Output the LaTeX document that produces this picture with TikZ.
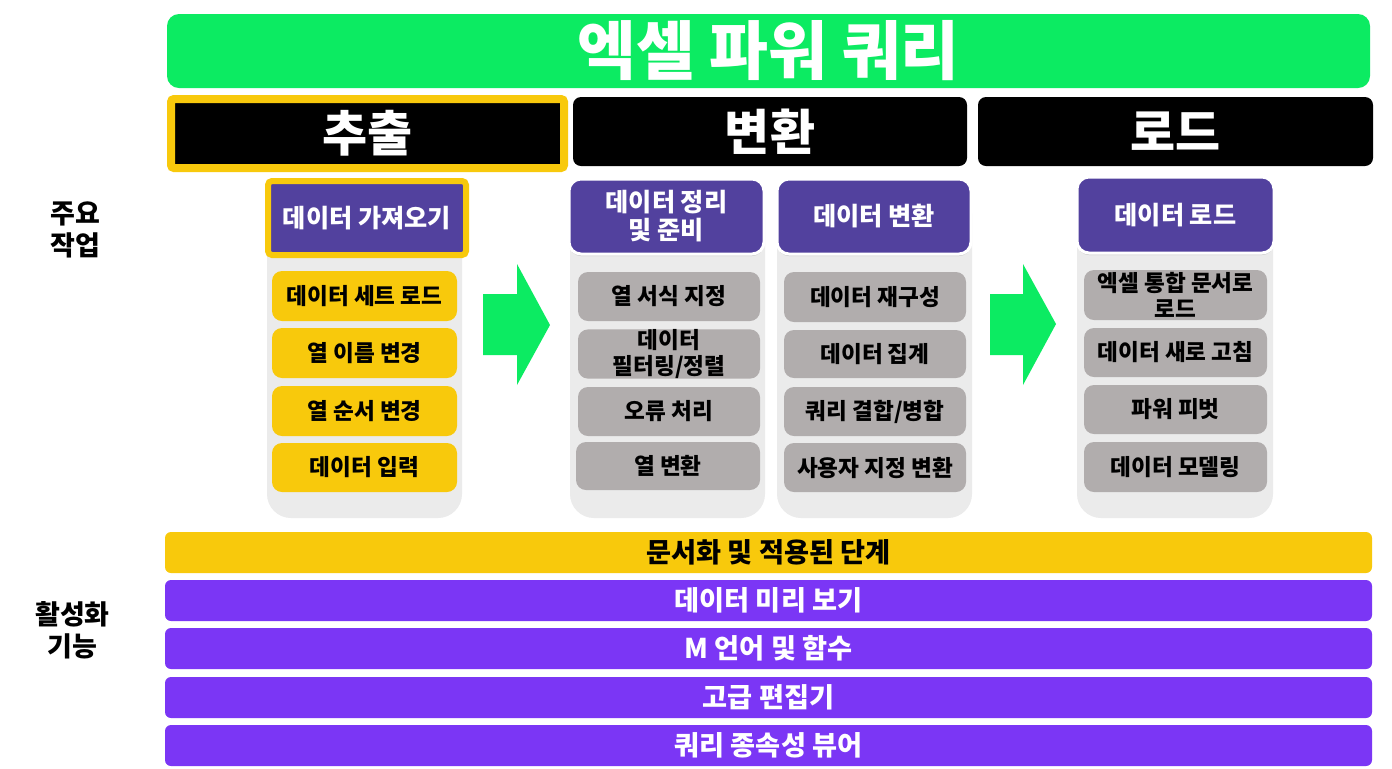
\documentclass[tikz,border=0pt]{standalone}
\usepackage{fontspec}
\setmainfont{Noto Sans CJK KR}
\definecolor{pqgreen}{HTML}{0CEB62}
\definecolor{pqyellow}{HTML}{F8C90C}
\definecolor{pqhead}{HTML}{52419E}
\definecolor{pqviolet}{HTML}{7B36F5}
\definecolor{pqgray}{HTML}{B1ADAD}
\definecolor{pqpanel}{HTML}{EBEBEB}
\newcommand\bx[7]{\node[#2, minimum width={(#5-#3)*0.5pt}, minimum height={(#6-#4)*0.5pt}] (#1) at ({(#3+#5)/2},{(#4+#6)/2}) {#7};}
\usetikzlibrary{shadows}
\tikzset{
  base/.style={inner sep=0pt, outer sep=0pt, align=center},
  greenbar/.style={base, fill=pqgreen, rounded corners=6pt, text=white, font=\fontsize{32}{36}\selectfont\bfseries},
  blackhead/.style={base, fill=black, rounded corners=4pt, text=white, font=\fontsize{24.5}{28}\selectfont\bfseries},
  exthead/.style={base, fill=black, draw=pqyellow, line width=4pt, rounded corners=1.5pt, text=white, font=\fontsize{24.5}{28}\selectfont\bfseries},
  panel/.style={base, fill=pqpanel, rounded corners=12pt},
  subhead/.style={base, fill=pqhead, draw=white, line width=1.5pt, rounded corners=6pt, text=white, font=\fontsize{12.6}{14}\selectfont\bfseries,
     drop shadow={shadow xshift=0pt, shadow yshift=-1pt, opacity=0.35}},
  subheady/.style={base, fill=pqhead, draw=pqyellow, line width=3pt, rounded corners=2pt, text=white, font=\fontsize{12.6}{14}\selectfont\bfseries},
  yitem/.style={base, fill=pqyellow, rounded corners=5pt, font=\fontsize{11.3}{13}\selectfont\bfseries},
  gitem/.style={base, fill=pqgray, rounded corners=5pt, font=\fontsize{11.3}{13}\selectfont\bfseries},
  ybar/.style={base, fill=pqyellow, rounded corners=3pt, font=\fontsize{13.6}{15}\selectfont\bfseries},
  vbar/.style={base, fill=pqviolet, rounded corners=3pt, text=white, font=\fontsize{13.6}{15}\selectfont\bfseries},
  sidelabel/.style={base, font=\fontsize{13.5}{16}\selectfont\bfseries},
  bigarrow/.style={fill=pqgreen}
}
\begin{document}
\begin{tikzpicture}[x=0.5pt,y=-0.5pt]
\useasboundingbox[fill=white] (0,0) rectangle (1392,768);
% title
\bx{title}{greenbar}{167}{14}{1370}{88}{엑셀 파워 쿼리}
% section headers
\bx{extract}{exthead}{171}{99}{564}{168}{추출}
\bx{transform}{blackhead}{573}{97}{967}{166}{변환}
\bx{load}{blackhead}{978}{97}{1373}{166}{로드}
% side labels
\bx{mainwork}{sidelabel}{40}{200}{110}{260}{주요\\작업}
\bx{features}{sidelabel}{30}{600}{115}{660}{활성화\\기능}
% panels
\bx{p1}{panel}{267}{190}{462}{518}{}
\bx{p2}{panel}{570}{190}{765}{518}{}
\bx{p3}{panel}{777}{190}{972}{518}{}
\bx{p4}{panel}{1077}{190}{1273}{518}{}
% column headers
\bx{h1}{subheady}{268}{181}{466}{255}{데이터 가져오기}
\bx{h2}{subhead}{569}{179}{764}{254}{데이터 정리\\및 준비}
\bx{h3}{subhead}{777}{179}{971}{254}{데이터 변환}
\bx{h4}{subhead}{1077}{177}{1274}{253}{데이터 로드}
% column 1 items
\bx{a1}{yitem}{272}{271}{457}{321}{데이터 세트 로드}
\bx{a2}{yitem}{272}{328}{457}{378}{열 이름 변경}
\bx{a3}{yitem}{272}{386}{457}{436}{열 순서 변경}
\bx{a4}{yitem}{272}{443}{457}{492}{데이터 입력}
% column 2 items
\bx{b1}{gitem}{578}{272}{760}{321}{열 서식 지정}
\bx{b2}{gitem}{578}{330}{760}{378}{데이터\\필터링/정렬}
\bx{b3}{gitem}{578}{387}{760}{436}{오류 처리}
\bx{b4}{gitem}{576}{442}{760}{490}{열 변환}
% column 3 items
\bx{c1}{gitem}{784}{272}{966}{322}{데이터 재구성}
\bx{c2}{gitem}{784}{330}{966}{378}{데이터 집계}
\bx{c3}{gitem}{784}{387}{966}{436}{쿼리 결합/병합}
\bx{c4}{gitem}{784}{443}{966}{492}{사용자 지정 변환}
% column 4 items
\bx{d1}{gitem}{1084}{270}{1267}{320}{엑셀 통합 문서로\\로드}
\bx{d2}{gitem}{1084}{328}{1267}{377}{데이터 새로 고침}
\bx{d3}{gitem}{1084}{385}{1267}{434}{파워 피벗}
\bx{d4}{gitem}{1084}{442}{1267}{492}{데이터 모델링}
% arrows
\fill[bigarrow] (483,294) -- (517,294) -- (517,264) -- (550,325) -- (517,385) -- (517,355) -- (483,355) -- cycle;
\fill[bigarrow] (990,294) -- (1023,294) -- (1023,264) -- (1056,324) -- (1023,385) -- (1023,355) -- (990,355) -- cycle;
% bottom bars
\bx{docs}{ybar}{165}{532}{1372}{573}{문서화 및 적용된 단계}
\bx{preview}{vbar}{165}{580}{1372}{621}{데이터 미리 보기}
\bx{mlang}{vbar}{165}{628}{1372}{669}{M 언어 및 함수}
\bx{editor}{vbar}{165}{677}{1372}{718}{고급 편집기}
\bx{deps}{vbar}{165}{725}{1372}{766}{쿼리 종속성 뷰어}
\end{tikzpicture}
\end{document}
